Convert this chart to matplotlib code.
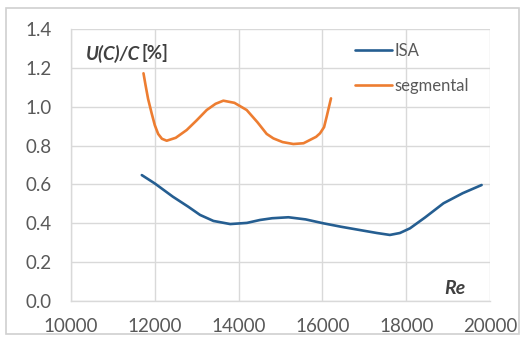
import matplotlib
matplotlib.use('Agg')
import matplotlib.pyplot as plt
from matplotlib.patches import Rectangle

# values (Re, U(C)/C in %)
isa_re = [11690, 12000, 12430, 12800, 13080, 13400, 13800, 14200, 14510, 14800,
          15190, 15600, 16020, 16450, 16900, 17300, 17610, 17850, 18090, 18450,
          18890, 19350, 19800]
isa_u = [0.648, 0.605, 0.537, 0.485, 0.443, 0.412, 0.396, 0.402, 0.417, 0.426,
         0.431, 0.420, 0.400, 0.382, 0.365, 0.350, 0.340, 0.350, 0.374, 0.430,
         0.503, 0.555, 0.597]

seg_re = [11730, 11780, 11840, 11925, 12000, 12080, 12170, 12284, 12500, 12761,
          13000, 13239, 13450, 13636, 13900, 14193, 14450, 14670, 14830, 15050,
          15307, 15550, 15704, 15850, 15943, 16040, 16102, 16205]
seg_u = [1.172, 1.110, 1.040, 0.966, 0.905, 0.860, 0.835, 0.825, 0.840, 0.880,
         0.930, 0.983, 1.015, 1.031, 1.020, 0.983, 0.920, 0.860, 0.837, 0.818,
         0.808, 0.812, 0.829, 0.845, 0.863, 0.895, 0.949, 1.043]

xticks = [10000, 12000, 14000, 16000, 18000, 20000]
yticks = [0.0, 0.2, 0.4, 0.6, 0.8, 1.0, 1.2, 1.4]

txt_color = '#595959'
grid_color = '#d9d9d9'
plt.rcParams['font.family'] = ['Lato', 'DejaVu Sans']

fig = plt.figure(figsize=(5.27, 3.39), dpi=100)
fig.patches.append(Rectangle((0.012, 0.015), 0.972, 0.96, transform=fig.transFigure,
                             fill=False, edgecolor='#d0d0d0', linewidth=1.2))
ax = fig.add_axes([71 / 527, 1 - 301 / 339, 419 / 527, 272 / 339])

ax.plot(isa_re, isa_u, color='#255e91', linewidth=1.9, label='ISA',
        solid_capstyle='round', solid_joinstyle='round')
ax.plot(seg_re, seg_u, color='#ed7d31', linewidth=1.9, label='segmental',
        solid_capstyle='round', solid_joinstyle='round')

ax.set_xlim(10000, 20000)
ax.set_ylim(0, 1.4)
ax.set_xticks(xticks)
ax.set_xticklabels([str(t) for t in xticks])
ax.set_yticks(yticks)
ax.set_yticklabels(['%.1f' % t for t in yticks])
ax.tick_params(length=0, labelsize=13.5, colors=txt_color)
ax.tick_params(axis='y', pad=14)
ax.tick_params(axis='x', pad=12)
ax.grid(True, color=grid_color, linewidth=1.0)
ax.set_axisbelow(True)
for s in ['top', 'right']:
    ax.spines[s].set_visible(False)
for s in ['left', 'bottom']:
    ax.spines[s].set_color(grid_color)
    ax.spines[s].set_linewidth(1.0)

ax.text(0.035, 0.91, 'U(C)/C', transform=ax.transAxes, fontsize=13.5,
        fontweight='bold', fontstyle='italic', color='#404040', va='center')
ax.text(0.168, 0.91, '[%]', transform=ax.transAxes, fontsize=13.5,
        fontweight='bold', color='#404040', va='center')
ax.text(0.89, 0.045, 'Re', transform=ax.transAxes, fontsize=14,
        fontweight='bold', fontstyle='italic', color='#404040', va='center')

leg = ax.legend(loc='upper left', bbox_to_anchor=(0.678, 0.95), frameon=False,
                fontsize=12, handlelength=2.2, handletextpad=0.15,
                labelspacing=1.15, borderpad=0, borderaxespad=0,
                labelcolor=txt_color)

fig.savefig('out.png', dpi=100)
